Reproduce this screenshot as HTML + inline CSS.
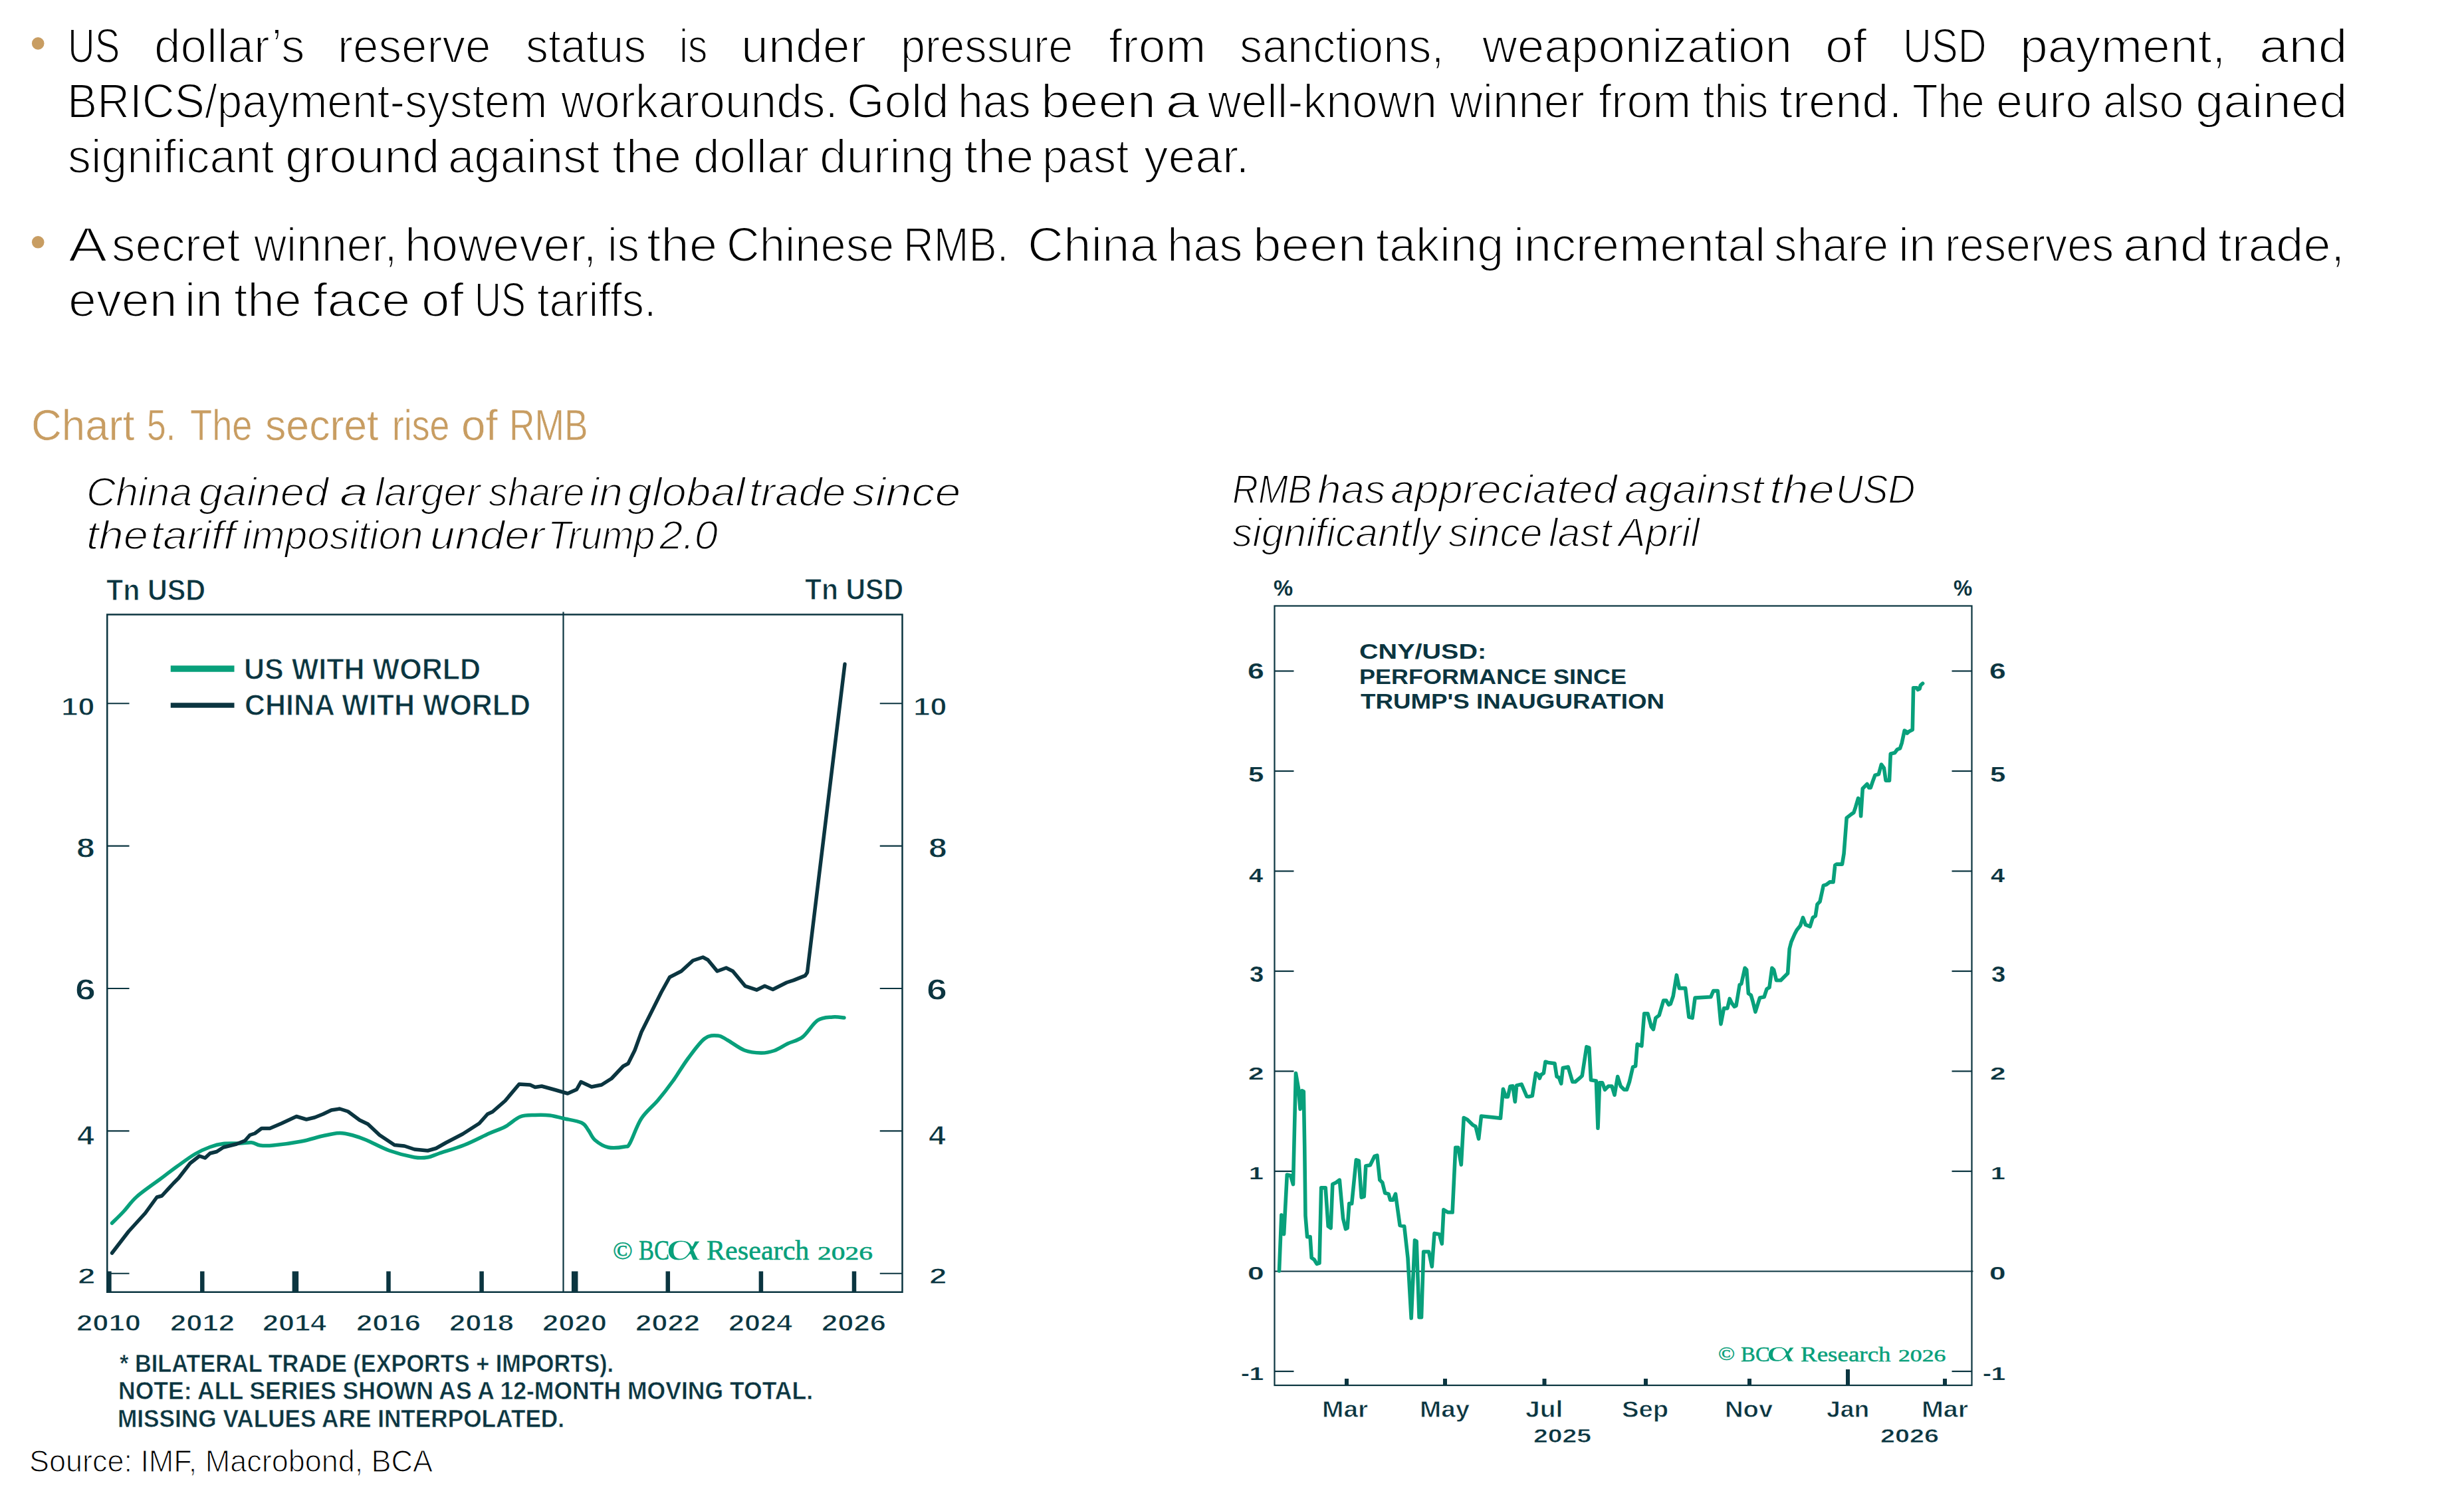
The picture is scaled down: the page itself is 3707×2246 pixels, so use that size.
<!DOCTYPE html>
<html><head><meta charset="utf-8"><style>
html,body{margin:0;padding:0;background:#fff;}
body{width:3707px;height:2246px;position:relative;overflow:hidden;}
.t{position:absolute;transform-origin:0 0;}
svg{position:absolute;left:0;top:0;}
</style></head><body>
<svg width="3707" height="2246" viewBox="0 0 3707 2246">
<circle cx="57.2" cy="65.4" r="9.3" fill="#c89d62"/>
<circle cx="57.2" cy="364.3" r="9.3" fill="#c89d62"/>
<rect x="161.25" y="924.5" width="1196.25" height="1019.25" fill="none" stroke="#0b3540" stroke-width="2.5"/>
<line x1="847.50" y1="920.50" x2="847.50" y2="1943.75" stroke="#0b3540" stroke-width="2.20" stroke-linecap="butt"/>
<line x1="161.25" y1="1915.75" x2="194.50" y2="1915.75" stroke="#0b3540" stroke-width="2.20" stroke-linecap="butt"/>
<line x1="1323.75" y1="1915.75" x2="1357.50" y2="1915.75" stroke="#0b3540" stroke-width="2.20" stroke-linecap="butt"/>
<line x1="161.25" y1="1701.37" x2="194.50" y2="1701.37" stroke="#0b3540" stroke-width="2.20" stroke-linecap="butt"/>
<line x1="1323.75" y1="1701.37" x2="1357.50" y2="1701.37" stroke="#0b3540" stroke-width="2.20" stroke-linecap="butt"/>
<line x1="161.25" y1="1486.99" x2="194.50" y2="1486.99" stroke="#0b3540" stroke-width="2.20" stroke-linecap="butt"/>
<line x1="1323.75" y1="1486.99" x2="1357.50" y2="1486.99" stroke="#0b3540" stroke-width="2.20" stroke-linecap="butt"/>
<line x1="161.25" y1="1272.61" x2="194.50" y2="1272.61" stroke="#0b3540" stroke-width="2.20" stroke-linecap="butt"/>
<line x1="1323.75" y1="1272.61" x2="1357.50" y2="1272.61" stroke="#0b3540" stroke-width="2.20" stroke-linecap="butt"/>
<line x1="161.25" y1="1058.23" x2="194.50" y2="1058.23" stroke="#0b3540" stroke-width="2.20" stroke-linecap="butt"/>
<line x1="1323.75" y1="1058.23" x2="1357.50" y2="1058.23" stroke="#0b3540" stroke-width="2.20" stroke-linecap="butt"/>
<rect x="161.15" y="1912.50" width="6.50" height="31.50" fill="#0b3540"/>
<rect x="301.05" y="1912.50" width="6.50" height="31.50" fill="#0b3540"/>
<rect x="439.65" y="1912.50" width="9.50" height="31.50" fill="#0b3540"/>
<rect x="581.25" y="1912.50" width="6.50" height="31.50" fill="#0b3540"/>
<rect x="721.35" y="1912.50" width="6.50" height="31.50" fill="#0b3540"/>
<rect x="859.95" y="1912.50" width="9.50" height="31.50" fill="#0b3540"/>
<rect x="1001.55" y="1912.50" width="6.50" height="31.50" fill="#0b3540"/>
<rect x="1141.65" y="1912.50" width="6.50" height="31.50" fill="#0b3540"/>
<rect x="1281.75" y="1912.50" width="6.50" height="31.50" fill="#0b3540"/>
<line x1="256.75" y1="1006.00" x2="352.50" y2="1006.00" stroke="#08a07b" stroke-width="9.50" stroke-linecap="butt"/>
<line x1="256.75" y1="1061.00" x2="352.50" y2="1061.00" stroke="#0b3540" stroke-width="7.50" stroke-linecap="butt"/>
<path d="M168.5,1840.0 C171.4,1837.1 179.8,1829.2 186.0,1822.5 C192.2,1815.8 196.8,1808.1 206.0,1800.0 C215.2,1791.9 231.0,1781.2 241.0,1773.8 C251.0,1766.2 257.2,1761.3 266.0,1755.0 C274.8,1748.7 285.2,1740.9 293.5,1736.0 C301.8,1731.1 308.9,1728.1 316.0,1725.5 C323.1,1722.9 328.5,1721.4 336.0,1720.5 C343.5,1719.6 353.9,1720.3 361.0,1720.0 C368.1,1719.7 373.5,1718.2 378.5,1718.8 C383.5,1719.2 385.6,1722.3 391.0,1723.0 C396.4,1723.7 400.6,1724.0 411.0,1723.0 C421.4,1722.0 441.0,1719.4 453.5,1717.0 C466.0,1714.6 476.4,1710.8 486.0,1708.8 C495.6,1706.7 503.5,1704.6 511.0,1704.5 C518.5,1704.4 524.3,1706.2 531.0,1708.0 C537.7,1709.8 541.8,1711.2 551.0,1715.0 C560.2,1718.8 573.9,1726.7 586.0,1731.0 C598.1,1735.3 613.9,1739.3 623.5,1741.0 C633.1,1742.7 637.2,1742.0 643.5,1741.0 C649.8,1740.0 651.8,1738.1 661.0,1735.0 C670.2,1731.9 686.0,1727.5 698.5,1722.5 C711.0,1717.5 725.8,1709.6 736.0,1705.0 C746.2,1700.4 752.2,1699.2 760.0,1695.0 C767.8,1690.8 775.0,1682.9 782.5,1680.0 C790.0,1677.1 797.5,1677.8 805.0,1677.5 C812.5,1677.2 820.4,1677.2 827.5,1678.0 C834.6,1678.8 839.6,1680.7 847.5,1682.5 C855.4,1684.3 868.8,1686.1 875.0,1689.0 C881.2,1691.9 881.7,1695.7 885.0,1700.0 C888.3,1704.3 890.0,1710.7 895.0,1715.0 C900.0,1719.3 907.5,1724.3 915.0,1726.0 C922.5,1727.7 934.6,1726.0 940.0,1725.0 C945.4,1724.0 943.3,1727.1 947.5,1720.0 C951.7,1712.9 957.9,1693.3 965.0,1682.5 C972.1,1671.7 982.1,1664.4 990.0,1655.0 C997.9,1645.6 1005.0,1636.4 1012.5,1626.0 C1020.0,1615.6 1027.1,1603.1 1035.0,1592.5 C1042.9,1581.9 1052.5,1568.2 1060.0,1562.5 C1067.5,1556.8 1074.2,1557.6 1080.0,1558.0 C1085.8,1558.4 1088.3,1561.3 1095.0,1565.0 C1101.7,1568.7 1111.7,1576.8 1120.0,1580.0 C1128.3,1583.2 1137.5,1583.9 1145.0,1584.0 C1152.5,1584.1 1158.3,1582.8 1165.0,1580.5 C1171.7,1578.2 1177.9,1573.4 1185.0,1570.0 C1192.1,1566.6 1200.0,1565.8 1207.5,1560.0 C1215.0,1554.2 1222.5,1540.0 1230.0,1535.0 C1237.5,1530.0 1245.8,1530.7 1252.5,1530.0 C1259.2,1529.3 1267.1,1530.8 1270.0,1531.0" fill="none" stroke="#08a07b" stroke-width="5.50" stroke-linejoin="round" stroke-linecap="round"/>
<polyline points="168.5,1885.0 193.5,1852.5 218.5,1825.0 236.0,1801.0 243.5,1799.0 261.0,1780.0 268.5,1772.5 286.0,1750.0 300.0,1739.0 308.5,1742.0 316.0,1735.0 326.0,1732.5 336.0,1726.0 356.0,1721.0 368.5,1716.0 376.0,1707.5 383.5,1705.0 393.5,1697.5 406.0,1697.5 423.5,1690.0 446.0,1679.5 461.0,1684.0 473.5,1681.0 486.0,1676.0 498.5,1670.0 511.0,1668.0 523.5,1672.0 541.0,1685.0 553.5,1691.0 571.0,1707.5 593.5,1722.5 608.5,1724.0 623.5,1729.0 643.5,1731.0 656.0,1727.5 671.0,1719.0 696.0,1706.0 721.0,1690.0 733.5,1676.0 741.0,1672.5 760.0,1656.0 781.0,1631.0 797.5,1632.0 805.0,1635.5 815.0,1634.0 835.0,1639.5 854.0,1645.0 867.5,1639.0 874.0,1627.5 890.0,1635.0 905.0,1632.0 920.0,1622.5 937.5,1604.0 945.0,1600.0 955.0,1580.0 965.0,1552.5 980.0,1522.5 995.0,1492.5 1007.5,1470.0 1025.0,1461.0 1042.5,1445.0 1057.5,1440.0 1065.0,1444.0 1079.0,1461.0 1092.5,1456.0 1102.5,1461.0 1121.0,1483.3 1138.3,1489.2 1150.5,1483.3 1162.7,1488.5 1183.6,1478.0 1194.0,1474.6 1211.5,1467.6 1214.5,1463.0 1271.0,999.0" fill="none" stroke="#0b3540" stroke-width="5.50" stroke-linejoin="round" stroke-linecap="round"/>
<rect x="1917.5" y="911.5" width="1049" height="1172.5" fill="none" stroke="#0b3540" stroke-width="2.2"/>
<line x1="1917.50" y1="1912.50" x2="2968.50" y2="1912.50" stroke="#0b3540" stroke-width="2.20" stroke-linecap="butt"/>
<line x1="1917.50" y1="1009.50" x2="1946.50" y2="1009.50" stroke="#0b3540" stroke-width="2.20" stroke-linecap="butt"/>
<line x1="2936.50" y1="1009.50" x2="2966.50" y2="1009.50" stroke="#0b3540" stroke-width="2.20" stroke-linecap="butt"/>
<line x1="1917.50" y1="1160.00" x2="1946.50" y2="1160.00" stroke="#0b3540" stroke-width="2.20" stroke-linecap="butt"/>
<line x1="2936.50" y1="1160.00" x2="2966.50" y2="1160.00" stroke="#0b3540" stroke-width="2.20" stroke-linecap="butt"/>
<line x1="1917.50" y1="1310.50" x2="1946.50" y2="1310.50" stroke="#0b3540" stroke-width="2.20" stroke-linecap="butt"/>
<line x1="2936.50" y1="1310.50" x2="2966.50" y2="1310.50" stroke="#0b3540" stroke-width="2.20" stroke-linecap="butt"/>
<line x1="1917.50" y1="1461.00" x2="1946.50" y2="1461.00" stroke="#0b3540" stroke-width="2.20" stroke-linecap="butt"/>
<line x1="2936.50" y1="1461.00" x2="2966.50" y2="1461.00" stroke="#0b3540" stroke-width="2.20" stroke-linecap="butt"/>
<line x1="1917.50" y1="1611.50" x2="1946.50" y2="1611.50" stroke="#0b3540" stroke-width="2.20" stroke-linecap="butt"/>
<line x1="2936.50" y1="1611.50" x2="2966.50" y2="1611.50" stroke="#0b3540" stroke-width="2.20" stroke-linecap="butt"/>
<line x1="1917.50" y1="1762.00" x2="1946.50" y2="1762.00" stroke="#0b3540" stroke-width="2.20" stroke-linecap="butt"/>
<line x1="2936.50" y1="1762.00" x2="2966.50" y2="1762.00" stroke="#0b3540" stroke-width="2.20" stroke-linecap="butt"/>
<line x1="1917.50" y1="2063.00" x2="1946.50" y2="2063.00" stroke="#0b3540" stroke-width="2.20" stroke-linecap="butt"/>
<line x1="2936.50" y1="2063.00" x2="2966.50" y2="2063.00" stroke="#0b3540" stroke-width="2.20" stroke-linecap="butt"/>
<rect x="2023.00" y="2074.00" width="6.00" height="10.00" fill="#0b3540"/>
<rect x="2171.00" y="2074.00" width="6.00" height="10.00" fill="#0b3540"/>
<rect x="2320.50" y="2074.00" width="6.00" height="10.00" fill="#0b3540"/>
<rect x="2473.00" y="2074.00" width="6.00" height="10.00" fill="#0b3540"/>
<rect x="2629.00" y="2074.00" width="6.00" height="10.00" fill="#0b3540"/>
<rect x="2923.00" y="2074.00" width="6.00" height="10.00" fill="#0b3540"/>
<rect x="2777.00" y="2060.00" width="6.00" height="24.00" fill="#0b3540"/>
<polyline points="1924.5,1912.0 1927.9,1827.7 1931.6,1856.7 1936.3,1767.2 1941.6,1768.5 1945.5,1781.6 1949.5,1614.5 1953.4,1636.9 1956.1,1668.4 1958.7,1640.8 1961.3,1642.1 1962.7,1723.7 1964.0,1829.0 1966.6,1860.6 1971.1,1860.6 1973.2,1892.2 1977.1,1894.8 1981.1,1901.4 1985.0,1900.1 1987.7,1786.9 1994.2,1786.9 1998.2,1844.8 2002.1,1847.5 2004.8,1781.6 2010.0,1779.0 2015.3,1775.1 2020.6,1833.0 2024.5,1848.8 2027.1,1847.5 2029.8,1810.6 2033.7,1810.6 2040.3,1744.8 2044.3,1746.1 2048.2,1801.4 2052.2,1800.1 2054.8,1754.0 2061.4,1752.7 2067.9,1739.5 2071.9,1738.2 2075.8,1775.1 2079.8,1779.0 2083.7,1794.8 2089.0,1796.1 2091.6,1805.3 2095.6,1805.3 2099.5,1796.1 2106.1,1843.5 2112.7,1844.8 2118.0,1892.2 2123.2,1983.0 2128.5,1865.9 2131.1,1867.2 2135.1,1981.7 2138.5,1981.7 2141.7,1883.0 2149.6,1883.0 2154.3,1905.4 2158.0,1855.4 2165.4,1856.7 2169.3,1871.1 2171.9,1819.8 2178.5,1823.8 2185.1,1823.8 2189.8,1726.4 2193.8,1726.4 2198.3,1752.2 2202.2,1681.6 2207.5,1684.2 2215.4,1692.1 2220.1,1694.8 2224.6,1713.2 2228.5,1679.0 2257.5,1682.1 2261.4,1638.2 2265.4,1650.0 2268.5,1650.0 2272.0,1634.2 2275.9,1633.7 2279.3,1657.4 2281.7,1632.9 2289.1,1631.1 2297.0,1649.5 2300.0,1649.8 2305.3,1648.5 2310.5,1614.3 2314.5,1616.9 2316.3,1622.2 2318.4,1616.9 2322.4,1614.3 2325.0,1597.2 2329.0,1598.5 2339.0,1599.8 2342.1,1619.6 2345.3,1620.9 2348.7,1630.1 2351.3,1606.4 2359.2,1605.1 2365.8,1627.5 2369.8,1627.5 2377.7,1620.9 2380.3,1618.2 2386.9,1574.8 2390.8,1576.1 2393.5,1624.8 2401.4,1626.1 2404.0,1697.2 2406.6,1628.8 2410.6,1628.8 2414.5,1639.3 2419.8,1634.0 2425.0,1634.0 2429.0,1647.2 2433.7,1619.6 2438.2,1634.0 2443.5,1639.3 2447.4,1639.3 2451.4,1627.5 2456.6,1605.1 2460.6,1603.8 2463.2,1570.9 2469.8,1573.5 2473.7,1524.8 2479.0,1524.8 2484.3,1544.5 2487.4,1548.5 2490.9,1531.4 2496.1,1527.4 2502.7,1505.0 2506.7,1505.0 2510.6,1511.6 2513.2,1510.3 2517.2,1498.5 2522.4,1466.9 2526.4,1486.6 2530.3,1486.6 2535.6,1486.6 2540.9,1530.1 2546.1,1531.4 2550.1,1501.1 2573.8,1499.8 2577.7,1490.6 2584.3,1490.6 2589.0,1540.6 2593.5,1516.9 2598.8,1516.9 2602.2,1502.4 2605.4,1509.0 2609.3,1514.3 2612.0,1512.9 2617.2,1481.4 2619.8,1480.0 2625.1,1456.3 2627.7,1459.0 2630.4,1494.5 2634.3,1497.1 2637.0,1506.4 2640.9,1522.2 2647.5,1501.1 2654.1,1499.8 2658.0,1487.9 2662.0,1485.3 2665.9,1456.3 2668.6,1459.0 2672.5,1474.8 2679.1,1474.8 2684.3,1469.5 2689.6,1464.2 2692.2,1427.4 2694.9,1416.9 2700.1,1405.0 2703.1,1399.2 2708.5,1392.5 2712.5,1380.4 2716.5,1391.2 2723.2,1393.8 2727.3,1380.4 2731.3,1377.8 2734.0,1360.4 2738.0,1356.3 2743.3,1332.2 2747.4,1330.9 2752.7,1326.9 2758.1,1326.9 2760.8,1301.4 2763.4,1300.1 2771.5,1300.1 2774.1,1284.0 2778.2,1230.4 2784.9,1225.1 2788.9,1222.4 2791.6,1214.3 2795.6,1200.9 2798.3,1203.6 2799.6,1227.7 2802.3,1186.2 2809.0,1179.5 2811.7,1184.9 2814.3,1184.9 2817.0,1176.8 2821.0,1166.1 2826.4,1164.8 2830.4,1150.0 2834.4,1155.4 2837.1,1174.1 2842.5,1174.1 2844.3,1134.0 2850.5,1132.6 2854.5,1127.3 2858.5,1125.9 2861.2,1117.9 2865.2,1099.1 2867.9,1100.5 2869.3,1103.1 2871.9,1100.5 2877.3,1097.8 2878.6,1034.8 2884.0,1034.8 2885.3,1037.5 2888.0,1036.2 2889.4,1030.8 2892.6,1028.1" fill="none" stroke="#08a07b" stroke-width="5.60" stroke-linejoin="round" stroke-linecap="round"/>
</svg>
<div class="t" style="left:102.40px;top:33.45px;font-family:'Liberation Sans';font-size:72px;line-height:72px;color:#000;-webkit-text-stroke:2.00px #fff;white-space:pre;transform:scaleX(0.7845);">US</div>
<div class="t" style="left:232.00px;top:33.45px;font-family:'Liberation Sans';font-size:72px;line-height:72px;color:#000;-webkit-text-stroke:2.00px #fff;white-space:pre;transform:scaleX(0.9868);">dollar’s</div>
<div class="t" style="left:508.00px;top:33.45px;font-family:'Liberation Sans';font-size:72px;line-height:72px;color:#000;-webkit-text-stroke:2.00px #fff;white-space:pre;transform:scaleX(0.9598);">reserve</div>
<div class="t" style="left:791.00px;top:33.45px;font-family:'Liberation Sans';font-size:72px;line-height:72px;color:#000;-webkit-text-stroke:2.00px #fff;white-space:pre;transform:scaleX(0.9436);">status</div>
<div class="t" style="left:1022.00px;top:33.45px;font-family:'Liberation Sans';font-size:72px;line-height:72px;color:#000;-webkit-text-stroke:2.00px #fff;white-space:pre;transform:scaleX(0.8143);">is</div>
<div class="t" style="left:1115.00px;top:33.45px;font-family:'Liberation Sans';font-size:72px;line-height:72px;color:#000;-webkit-text-stroke:2.00px #fff;white-space:pre;transform:scaleX(1.0227);">under</div>
<div class="t" style="left:1355.00px;top:33.45px;font-family:'Liberation Sans';font-size:72px;line-height:72px;color:#000;-webkit-text-stroke:2.00px #fff;white-space:pre;transform:scaleX(0.9258);">pressure</div>
<div class="t" style="left:1668.00px;top:33.45px;font-family:'Liberation Sans';font-size:72px;line-height:72px;color:#000;-webkit-text-stroke:2.00px #fff;white-space:pre;transform:scaleX(1.0169);">from</div>
<div class="t" style="left:1865.00px;top:33.45px;font-family:'Liberation Sans';font-size:72px;line-height:72px;color:#000;-webkit-text-stroke:2.00px #fff;white-space:pre;transform:scaleX(0.9481);">sanctions,</div>
<div class="t" style="left:2230.00px;top:33.45px;font-family:'Liberation Sans';font-size:72px;line-height:72px;color:#000;-webkit-text-stroke:2.00px #fff;white-space:pre;transform:scaleX(1.0125);">weaponization</div>
<div class="t" style="left:2746.00px;top:33.45px;font-family:'Liberation Sans';font-size:72px;line-height:72px;color:#000;-webkit-text-stroke:2.00px #fff;white-space:pre;transform:scaleX(1.0397);">of</div>
<div class="t" style="left:2863.00px;top:33.45px;font-family:'Liberation Sans';font-size:72px;line-height:72px;color:#000;-webkit-text-stroke:2.00px #fff;white-space:pre;transform:scaleX(0.8261);">USD</div>
<div class="t" style="left:3039.00px;top:33.45px;font-family:'Liberation Sans';font-size:72px;line-height:72px;color:#000;-webkit-text-stroke:2.00px #fff;white-space:pre;transform:scaleX(1.0456);">payment,</div>
<div class="t" style="left:3399.00px;top:33.45px;font-family:'Liberation Sans';font-size:72px;line-height:72px;color:#000;-webkit-text-stroke:2.00px #fff;white-space:pre;transform:scaleX(1.1055);">and</div>
<div class="t" style="left:101.40px;top:115.55px;font-family:'Liberation Sans';font-size:72px;line-height:72px;color:#000;-webkit-text-stroke:2.00px #fff;white-space:pre;transform:scaleX(0.9404);">BRICS/payment-system</div>
<div class="t" style="left:844.20px;top:115.55px;font-family:'Liberation Sans';font-size:72px;line-height:72px;color:#000;-webkit-text-stroke:2.00px #fff;white-space:pre;transform:scaleX(0.9642);">workarounds.</div>
<div class="t" style="left:1274.00px;top:115.55px;font-family:'Liberation Sans';font-size:72px;line-height:72px;color:#000;-webkit-text-stroke:2.00px #fff;white-space:pre;transform:scaleX(1.0104);">Gold</div>
<div class="t" style="left:1441.00px;top:115.55px;font-family:'Liberation Sans';font-size:72px;line-height:72px;color:#000;-webkit-text-stroke:2.00px #fff;white-space:pre;transform:scaleX(0.9457);">has</div>
<div class="t" style="left:1566.00px;top:115.55px;font-family:'Liberation Sans';font-size:72px;line-height:72px;color:#000;-webkit-text-stroke:2.00px #fff;white-space:pre;transform:scaleX(1.0794);">been</div>
<div class="t" style="left:1753.00px;top:115.55px;font-family:'Liberation Sans';font-size:72px;line-height:72px;color:#000;-webkit-text-stroke:2.00px #fff;white-space:pre;transform:scaleX(1.2928);">a</div>
<div class="t" style="left:1817.00px;top:115.55px;font-family:'Liberation Sans';font-size:72px;line-height:72px;color:#000;-webkit-text-stroke:2.00px #fff;white-space:pre;transform:scaleX(0.9690);">well-known</div>
<div class="t" style="left:2181.00px;top:115.55px;font-family:'Liberation Sans';font-size:72px;line-height:72px;color:#000;-webkit-text-stroke:2.00px #fff;white-space:pre;transform:scaleX(0.9573);">winner</div>
<div class="t" style="left:2405.00px;top:115.55px;font-family:'Liberation Sans';font-size:72px;line-height:72px;color:#000;-webkit-text-stroke:2.00px #fff;white-space:pre;transform:scaleX(0.9680);">from</div>
<div class="t" style="left:2562.00px;top:115.55px;font-family:'Liberation Sans';font-size:72px;line-height:72px;color:#000;-webkit-text-stroke:2.00px #fff;white-space:pre;transform:scaleX(0.8772);">this</div>
<div class="t" style="left:2676.60px;top:115.55px;font-family:'Liberation Sans';font-size:72px;line-height:72px;color:#000;-webkit-text-stroke:2.00px #fff;white-space:pre;transform:scaleX(1.0020);">trend.</div>
<div class="t" style="left:2876.60px;top:115.55px;font-family:'Liberation Sans';font-size:72px;line-height:72px;color:#000;-webkit-text-stroke:2.00px #fff;white-space:pre;transform:scaleX(0.8760);">The</div>
<div class="t" style="left:3003.00px;top:115.55px;font-family:'Liberation Sans';font-size:72px;line-height:72px;color:#000;-webkit-text-stroke:2.00px #fff;white-space:pre;transform:scaleX(1.0027);">euro</div>
<div class="t" style="left:3164.00px;top:115.55px;font-family:'Liberation Sans';font-size:72px;line-height:72px;color:#000;-webkit-text-stroke:2.00px #fff;white-space:pre;transform:scaleX(0.9190);">also</div>
<div class="t" style="left:3303.00px;top:115.55px;font-family:'Liberation Sans';font-size:72px;line-height:72px;color:#000;-webkit-text-stroke:2.00px #fff;white-space:pre;transform:scaleX(1.0569);">gained</div>
<div class="t" style="left:102.00px;top:198.55px;font-family:'Liberation Sans';font-size:72px;line-height:72px;color:#000;-webkit-text-stroke:2.00px #fff;white-space:pre;transform:scaleX(0.9697);">significant</div>
<div class="t" style="left:429.00px;top:198.55px;font-family:'Liberation Sans';font-size:72px;line-height:72px;color:#000;-webkit-text-stroke:2.00px #fff;white-space:pre;transform:scaleX(1.0367);">ground</div>
<div class="t" style="left:674.00px;top:198.55px;font-family:'Liberation Sans';font-size:72px;line-height:72px;color:#000;-webkit-text-stroke:2.00px #fff;white-space:pre;transform:scaleX(0.9825);">against</div>
<div class="t" style="left:921.00px;top:198.55px;font-family:'Liberation Sans';font-size:72px;line-height:72px;color:#000;-webkit-text-stroke:2.00px #fff;white-space:pre;transform:scaleX(1.0429);">the</div>
<div class="t" style="left:1043.00px;top:198.55px;font-family:'Liberation Sans';font-size:72px;line-height:72px;color:#000;-webkit-text-stroke:2.00px #fff;white-space:pre;transform:scaleX(0.9893);">dollar</div>
<div class="t" style="left:1233.00px;top:198.55px;font-family:'Liberation Sans';font-size:72px;line-height:72px;color:#000;-webkit-text-stroke:2.00px #fff;white-space:pre;transform:scaleX(1.0114);">during</div>
<div class="t" style="left:1450.00px;top:198.55px;font-family:'Liberation Sans';font-size:72px;line-height:72px;color:#000;-webkit-text-stroke:2.00px #fff;white-space:pre;transform:scaleX(1.0529);">the</div>
<div class="t" style="left:1568.00px;top:198.55px;font-family:'Liberation Sans';font-size:72px;line-height:72px;color:#000;-webkit-text-stroke:2.00px #fff;white-space:pre;transform:scaleX(0.9575);">past</div>
<div class="t" style="left:1721.00px;top:198.55px;font-family:'Liberation Sans';font-size:72px;line-height:72px;color:#000;-webkit-text-stroke:2.00px #fff;white-space:pre;transform:scaleX(1.0159);">year.</div>
<div class="t" style="left:103.20px;top:332.05px;font-family:'Liberation Sans';font-size:72px;line-height:72px;color:#000;-webkit-text-stroke:2.00px #fff;white-space:pre;transform:scaleX(1.2104);">A</div>
<div class="t" style="left:168.00px;top:332.05px;font-family:'Liberation Sans';font-size:72px;line-height:72px;color:#000;-webkit-text-stroke:2.00px #fff;white-space:pre;transform:scaleX(0.9849);">secret</div>
<div class="t" style="left:382.00px;top:332.05px;font-family:'Liberation Sans';font-size:72px;line-height:72px;color:#000;-webkit-text-stroke:2.00px #fff;white-space:pre;transform:scaleX(0.9438);">winner,</div>
<div class="t" style="left:609.00px;top:332.05px;font-family:'Liberation Sans';font-size:72px;line-height:72px;color:#000;-webkit-text-stroke:2.00px #fff;white-space:pre;transform:scaleX(1.0016);">however,</div>
<div class="t" style="left:913.60px;top:332.05px;font-family:'Liberation Sans';font-size:72px;line-height:72px;color:#000;-webkit-text-stroke:2.00px #fff;white-space:pre;transform:scaleX(0.9195);">is</div>
<div class="t" style="left:973.20px;top:332.05px;font-family:'Liberation Sans';font-size:72px;line-height:72px;color:#000;-webkit-text-stroke:2.00px #fff;white-space:pre;transform:scaleX(1.0628);">the</div>
<div class="t" style="left:1093.00px;top:332.05px;font-family:'Liberation Sans';font-size:72px;line-height:72px;color:#000;-webkit-text-stroke:2.00px #fff;white-space:pre;transform:scaleX(0.9549);">Chinese</div>
<div class="t" style="left:1359.00px;top:332.05px;font-family:'Liberation Sans';font-size:72px;line-height:72px;color:#000;-webkit-text-stroke:2.00px #fff;white-space:pre;transform:scaleX(0.8802);">RMB.</div>
<div class="t" style="left:1546.00px;top:332.05px;font-family:'Liberation Sans';font-size:72px;line-height:72px;color:#000;-webkit-text-stroke:2.00px #fff;white-space:pre;transform:scaleX(1.0376);">China</div>
<div class="t" style="left:1756.00px;top:332.05px;font-family:'Liberation Sans';font-size:72px;line-height:72px;color:#000;-webkit-text-stroke:2.00px #fff;white-space:pre;transform:scaleX(0.9771);">has</div>
<div class="t" style="left:1885.40px;top:332.05px;font-family:'Liberation Sans';font-size:72px;line-height:72px;color:#000;-webkit-text-stroke:2.00px #fff;white-space:pre;transform:scaleX(1.0644);">been</div>
<div class="t" style="left:2070.00px;top:332.05px;font-family:'Liberation Sans';font-size:72px;line-height:72px;color:#000;-webkit-text-stroke:2.00px #fff;white-space:pre;transform:scaleX(1.0007);">taking</div>
<div class="t" style="left:2277.00px;top:332.05px;font-family:'Liberation Sans';font-size:72px;line-height:72px;color:#000;-webkit-text-stroke:2.00px #fff;white-space:pre;transform:scaleX(1.0194);">incremental</div>
<div class="t" style="left:2669.00px;top:332.05px;font-family:'Liberation Sans';font-size:72px;line-height:72px;color:#000;-webkit-text-stroke:2.00px #fff;white-space:pre;transform:scaleX(0.9567);">share</div>
<div class="t" style="left:2856.20px;top:332.05px;font-family:'Liberation Sans';font-size:72px;line-height:72px;color:#000;-webkit-text-stroke:2.00px #fff;white-space:pre;transform:scaleX(1.0057);">in</div>
<div class="t" style="left:2925.60px;top:332.05px;font-family:'Liberation Sans';font-size:72px;line-height:72px;color:#000;-webkit-text-stroke:2.00px #fff;white-space:pre;transform:scaleX(0.9210);">reserves</div>
<div class="t" style="left:3194.20px;top:332.05px;font-family:'Liberation Sans';font-size:72px;line-height:72px;color:#000;-webkit-text-stroke:2.00px #fff;white-space:pre;transform:scaleX(1.0706);">and</div>
<div class="t" style="left:3337.00px;top:332.05px;font-family:'Liberation Sans';font-size:72px;line-height:72px;color:#000;-webkit-text-stroke:2.00px #fff;white-space:pre;transform:scaleX(1.0345);">trade,</div>
<div class="t" style="left:103.00px;top:414.55px;font-family:'Liberation Sans';font-size:72px;line-height:72px;color:#000;-webkit-text-stroke:2.00px #fff;white-space:pre;transform:scaleX(1.0480);">even</div>
<div class="t" style="left:278.00px;top:414.55px;font-family:'Liberation Sans';font-size:72px;line-height:72px;color:#000;-webkit-text-stroke:2.00px #fff;white-space:pre;transform:scaleX(1.0134);">in</div>
<div class="t" style="left:351.80px;top:414.55px;font-family:'Liberation Sans';font-size:72px;line-height:72px;color:#000;-webkit-text-stroke:2.00px #fff;white-space:pre;transform:scaleX(1.0154);">the</div>
<div class="t" style="left:471.00px;top:414.55px;font-family:'Liberation Sans';font-size:72px;line-height:72px;color:#000;-webkit-text-stroke:2.00px #fff;white-space:pre;transform:scaleX(1.0748);">face</div>
<div class="t" style="left:634.00px;top:414.55px;font-family:'Liberation Sans';font-size:72px;line-height:72px;color:#000;-webkit-text-stroke:2.00px #fff;white-space:pre;transform:scaleX(1.0595);">of</div>
<div class="t" style="left:714.00px;top:414.55px;font-family:'Liberation Sans';font-size:72px;line-height:72px;color:#000;-webkit-text-stroke:2.00px #fff;white-space:pre;transform:scaleX(0.7677);">US</div>
<div class="t" style="left:808.00px;top:414.55px;font-family:'Liberation Sans';font-size:72px;line-height:72px;color:#000;-webkit-text-stroke:2.00px #fff;white-space:pre;transform:scaleX(0.9215);">tariffs.</div>
<div class="t" style="left:47.00px;top:608.32px;font-family:'Liberation Sans';font-size:64px;line-height:64px;color:#c89d62;-webkit-text-stroke:0.60px #fff;white-space:pre;transform:scaleX(0.9923);">Chart</div>
<div class="t" style="left:220.70px;top:608.32px;font-family:'Liberation Sans';font-size:64px;line-height:64px;color:#c89d62;-webkit-text-stroke:0.60px #fff;white-space:pre;transform:scaleX(0.8056);">5.</div>
<div class="t" style="left:286.00px;top:608.32px;font-family:'Liberation Sans';font-size:64px;line-height:64px;color:#c89d62;-webkit-text-stroke:0.60px #fff;white-space:pre;transform:scaleX(0.8478);">The</div>
<div class="t" style="left:399.00px;top:608.32px;font-family:'Liberation Sans';font-size:64px;line-height:64px;color:#c89d62;-webkit-text-stroke:0.60px #fff;white-space:pre;transform:scaleX(0.9783);">secret</div>
<div class="t" style="left:589.60px;top:608.32px;font-family:'Liberation Sans';font-size:64px;line-height:64px;color:#c89d62;-webkit-text-stroke:0.60px #fff;white-space:pre;transform:scaleX(0.8378);">rise</div>
<div class="t" style="left:693.80px;top:608.32px;font-family:'Liberation Sans';font-size:64px;line-height:64px;color:#c89d62;-webkit-text-stroke:0.60px #fff;white-space:pre;transform:scaleX(1.0248);">of</div>
<div class="t" style="left:766.00px;top:608.32px;font-family:'Liberation Sans';font-size:64px;line-height:64px;color:#c89d62;-webkit-text-stroke:0.60px #fff;white-space:pre;transform:scaleX(0.8332);">RMB</div>
<div class="t" style="left:129.60px;top:709.86px;font-family:'Liberation Sans';font-size:61px;line-height:61px;color:#000;font-style:italic;-webkit-text-stroke:1.80px #fff;white-space:pre;transform:scaleX(0.9984);">China</div>
<div class="t" style="left:299.00px;top:709.86px;font-family:'Liberation Sans';font-size:61px;line-height:61px;color:#000;font-style:italic;-webkit-text-stroke:1.80px #fff;white-space:pre;transform:scaleX(1.0647);">gained</div>
<div class="t" style="left:511.00px;top:709.86px;font-family:'Liberation Sans';font-size:61px;line-height:61px;color:#000;font-style:italic;-webkit-text-stroke:1.80px #fff;white-space:pre;transform:scaleX(1.2606);">a</div>
<div class="t" style="left:564.00px;top:709.86px;font-family:'Liberation Sans';font-size:61px;line-height:61px;color:#000;font-style:italic;-webkit-text-stroke:1.80px #fff;white-space:pre;transform:scaleX(1.0170);">larger</div>
<div class="t" style="left:735.00px;top:709.86px;font-family:'Liberation Sans';font-size:61px;line-height:61px;color:#000;font-style:italic;-webkit-text-stroke:1.80px #fff;white-space:pre;transform:scaleX(0.9449);">share</div>
<div class="t" style="left:887.00px;top:709.86px;font-family:'Liberation Sans';font-size:61px;line-height:61px;color:#000;font-style:italic;-webkit-text-stroke:1.80px #fff;white-space:pre;transform:scaleX(1.0497);">in</div>
<div class="t" style="left:943.60px;top:709.86px;font-family:'Liberation Sans';font-size:61px;line-height:61px;color:#000;font-style:italic;-webkit-text-stroke:1.80px #fff;white-space:pre;transform:scaleX(1.0875);">global</div>
<div class="t" style="left:1127.00px;top:709.86px;font-family:'Liberation Sans';font-size:61px;line-height:61px;color:#000;font-style:italic;-webkit-text-stroke:1.80px #fff;white-space:pre;transform:scaleX(1.0456);">trade</div>
<div class="t" style="left:1281.80px;top:709.86px;font-family:'Liberation Sans';font-size:61px;line-height:61px;color:#000;font-style:italic;-webkit-text-stroke:1.80px #fff;white-space:pre;transform:scaleX(1.1475);">since</div>
<div class="t" style="left:130.00px;top:775.36px;font-family:'Liberation Sans';font-size:61px;line-height:61px;color:#000;font-style:italic;-webkit-text-stroke:1.80px #fff;white-space:pre;transform:scaleX(1.0976);">the</div>
<div class="t" style="left:227.40px;top:775.36px;font-family:'Liberation Sans';font-size:61px;line-height:61px;color:#000;font-style:italic;-webkit-text-stroke:1.80px #fff;white-space:pre;transform:scaleX(1.0722);">tariff</div>
<div class="t" style="left:364.60px;top:775.36px;font-family:'Liberation Sans';font-size:61px;line-height:61px;color:#000;font-style:italic;-webkit-text-stroke:1.80px #fff;white-space:pre;transform:scaleX(0.9887);">imposition</div>
<div class="t" style="left:647.00px;top:775.36px;font-family:'Liberation Sans';font-size:61px;line-height:61px;color:#000;font-style:italic;-webkit-text-stroke:1.80px #fff;white-space:pre;transform:scaleX(1.1028);">under</div>
<div class="t" style="left:824.00px;top:775.36px;font-family:'Liberation Sans';font-size:61px;line-height:61px;color:#000;font-style:italic;-webkit-text-stroke:1.80px #fff;white-space:pre;transform:scaleX(0.9405);">Trump</div>
<div class="t" style="left:992.00px;top:775.36px;font-family:'Liberation Sans';font-size:61px;line-height:61px;color:#000;font-style:italic;-webkit-text-stroke:1.80px #fff;white-space:pre;transform:scaleX(1.0387);">2.0</div>
<div class="t" style="left:1854.20px;top:705.86px;font-family:'Liberation Sans';font-size:61px;line-height:61px;color:#000;font-style:italic;-webkit-text-stroke:1.80px #fff;white-space:pre;transform:scaleX(0.8830);">RMB</div>
<div class="t" style="left:1982.00px;top:705.86px;font-family:'Liberation Sans';font-size:61px;line-height:61px;color:#000;font-style:italic;-webkit-text-stroke:1.80px #fff;white-space:pre;transform:scaleX(1.0437);">has</div>
<div class="t" style="left:2092.00px;top:705.86px;font-family:'Liberation Sans';font-size:61px;line-height:61px;color:#000;font-style:italic;-webkit-text-stroke:1.80px #fff;white-space:pre;transform:scaleX(1.0690);">appreciated</div>
<div class="t" style="left:2444.00px;top:705.86px;font-family:'Liberation Sans';font-size:61px;line-height:61px;color:#000;font-style:italic;-webkit-text-stroke:1.80px #fff;white-space:pre;transform:scaleX(1.0646);">against</div>
<div class="t" style="left:2662.00px;top:705.86px;font-family:'Liberation Sans';font-size:61px;line-height:61px;color:#000;font-style:italic;-webkit-text-stroke:1.80px #fff;white-space:pre;transform:scaleX(1.1534);">the</div>
<div class="t" style="left:2762.00px;top:705.86px;font-family:'Liberation Sans';font-size:61px;line-height:61px;color:#000;font-style:italic;-webkit-text-stroke:1.80px #fff;white-space:pre;transform:scaleX(0.9276);">USD</div>
<div class="t" style="left:1854.20px;top:770.86px;font-family:'Liberation Sans';font-size:61px;line-height:61px;color:#000;font-style:italic;-webkit-text-stroke:1.80px #fff;white-space:pre;transform:scaleX(0.9933);">significantly</div>
<div class="t" style="left:2178.60px;top:770.86px;font-family:'Liberation Sans';font-size:61px;line-height:61px;color:#000;font-style:italic;-webkit-text-stroke:1.80px #fff;white-space:pre;transform:scaleX(0.9942);">since</div>
<div class="t" style="left:2329.80px;top:770.86px;font-family:'Liberation Sans';font-size:61px;line-height:61px;color:#000;font-style:italic;-webkit-text-stroke:1.80px #fff;white-space:pre;transform:scaleX(0.9966);">last</div>
<div class="t" style="left:2435.00px;top:770.86px;font-family:'Liberation Sans';font-size:61px;line-height:61px;color:#000;font-style:italic;-webkit-text-stroke:1.80px #fff;white-space:pre;transform:scaleX(1.0000);">April</div>
<div class="t" style="left:160.00px;top:865.83px;font-family:'Liberation Sans';font-size:44.5px;line-height:44.5px;color:#0b3540;font-weight:bold;-webkit-text-stroke:1.04px #fff;white-space:pre;transform:scaleX(0.9277);">Tn USD</div>
<div class="t" style="left:1211.00px;top:864.83px;font-family:'Liberation Sans';font-size:44.5px;line-height:44.5px;color:#0b3540;font-weight:bold;-webkit-text-stroke:1.04px #fff;white-space:pre;transform:scaleX(0.9214);">Tn USD</div>
<div class="t" style="left:367.00px;top:984.83px;font-family:'Liberation Sans';font-size:44.5px;line-height:44.5px;color:#0b3540;font-weight:bold;-webkit-text-stroke:1.04px #fff;white-space:pre;transform:scaleX(0.9668);">US WITH WORLD</div>
<div class="t" style="left:368.00px;top:1038.83px;font-family:'Liberation Sans';font-size:44.5px;line-height:44.5px;color:#0b3540;font-weight:bold;-webkit-text-stroke:1.04px #fff;white-space:pre;transform:scaleX(0.9648);">CHINA WITH WORLD</div>
<div class="t" style="left:117.00px;top:1903.90px;font-family:'Liberation Sans';font-size:32.6px;line-height:32.6px;color:#0b3540;font-weight:bold;-webkit-text-stroke:1.00px #fff;white-space:pre;transform:scaleX(1.4687);">2</div>
<div class="t" style="left:1398.00px;top:1903.90px;font-family:'Liberation Sans';font-size:32.6px;line-height:32.6px;color:#0b3540;font-weight:bold;-webkit-text-stroke:1.00px #fff;white-space:pre;transform:scaleX(1.4687);">2</div>
<div class="t" style="left:115.80px;top:1687.60px;font-family:'Liberation Sans';font-size:40.4px;line-height:40.4px;color:#0b3540;font-weight:bold;-webkit-text-stroke:1.00px #fff;white-space:pre;transform:scaleX(1.1496);">4</div>
<div class="t" style="left:1397.40px;top:1687.60px;font-family:'Liberation Sans';font-size:40.4px;line-height:40.4px;color:#0b3540;font-weight:bold;-webkit-text-stroke:1.00px #fff;white-space:pre;transform:scaleX(1.1496);">4</div>
<div class="t" style="left:113.00px;top:1466.32px;font-family:'Liberation Sans';font-size:45.1px;line-height:45.1px;color:#0b3540;font-weight:bold;-webkit-text-stroke:1.00px #fff;white-space:pre;transform:scaleX(1.2354);">6</div>
<div class="t" style="left:1394.00px;top:1466.32px;font-family:'Liberation Sans';font-size:45.1px;line-height:45.1px;color:#0b3540;font-weight:bold;-webkit-text-stroke:1.00px #fff;white-space:pre;transform:scaleX(1.2354);">6</div>
<div class="t" style="left:115.00px;top:1253.94px;font-family:'Liberation Sans';font-size:42.6px;line-height:42.6px;color:#0b3540;font-weight:bold;-webkit-text-stroke:1.00px #fff;white-space:pre;transform:scaleX(1.1686);">8</div>
<div class="t" style="left:1397.00px;top:1253.94px;font-family:'Liberation Sans';font-size:42.6px;line-height:42.6px;color:#0b3540;font-weight:bold;-webkit-text-stroke:1.00px #fff;white-space:pre;transform:scaleX(1.1686);">8</div>
<div class="t" style="left:92.00px;top:1045.86px;font-family:'Liberation Sans';font-size:36.2px;line-height:36.2px;color:#0b3540;font-weight:bold;-webkit-text-stroke:1.00px #fff;white-space:pre;transform:scaleX(1.2592);">10</div>
<div class="t" style="left:1374.00px;top:1045.86px;font-family:'Liberation Sans';font-size:36.2px;line-height:36.2px;color:#0b3540;font-weight:bold;-webkit-text-stroke:1.00px #fff;white-space:pre;transform:scaleX(1.2592);">10</div>
<div class="t" style="left:115.20px;top:1973.45px;font-family:'Liberation Sans';font-size:35.5px;line-height:35.5px;color:#0b3540;font-weight:bold;-webkit-text-stroke:1.00px #fff;white-space:pre;transform:scaleX(1.2299);">2010</div>
<div class="t" style="left:255.80px;top:1973.45px;font-family:'Liberation Sans';font-size:35.5px;line-height:35.5px;color:#0b3540;font-weight:bold;-webkit-text-stroke:1.00px #fff;white-space:pre;transform:scaleX(1.2296);">2012</div>
<div class="t" style="left:395.40px;top:1973.45px;font-family:'Liberation Sans';font-size:35.5px;line-height:35.5px;color:#0b3540;font-weight:bold;-webkit-text-stroke:1.00px #fff;white-space:pre;transform:scaleX(1.2164);">2014</div>
<div class="t" style="left:536.00px;top:1973.45px;font-family:'Liberation Sans';font-size:35.5px;line-height:35.5px;color:#0b3540;font-weight:bold;-webkit-text-stroke:1.00px #fff;white-space:pre;transform:scaleX(1.2298);">2016</div>
<div class="t" style="left:675.60px;top:1973.45px;font-family:'Liberation Sans';font-size:35.5px;line-height:35.5px;color:#0b3540;font-weight:bold;-webkit-text-stroke:1.00px #fff;white-space:pre;transform:scaleX(1.2298);">2018</div>
<div class="t" style="left:816.20px;top:1973.45px;font-family:'Liberation Sans';font-size:35.5px;line-height:35.5px;color:#0b3540;font-weight:bold;-webkit-text-stroke:1.00px #fff;white-space:pre;transform:scaleX(1.2299);">2020</div>
<div class="t" style="left:955.80px;top:1973.45px;font-family:'Liberation Sans';font-size:35.5px;line-height:35.5px;color:#0b3540;font-weight:bold;-webkit-text-stroke:1.00px #fff;white-space:pre;transform:scaleX(1.2296);">2022</div>
<div class="t" style="left:1096.40px;top:1973.45px;font-family:'Liberation Sans';font-size:35.5px;line-height:35.5px;color:#0b3540;font-weight:bold;-webkit-text-stroke:1.00px #fff;white-space:pre;transform:scaleX(1.2164);">2024</div>
<div class="t" style="left:1236.00px;top:1973.45px;font-family:'Liberation Sans';font-size:35.5px;line-height:35.5px;color:#0b3540;font-weight:bold;-webkit-text-stroke:1.00px #fff;white-space:pre;transform:scaleX(1.2298);">2026</div>
<div class="t" style="left:180.00px;top:2032.68px;font-family:'Liberation Sans';font-size:37px;line-height:37px;color:#0b3540;font-weight:bold;-webkit-text-stroke:0.50px #fff;white-space:pre;transform:scaleX(0.9272);">* BILATERAL TRADE (EXPORTS + IMPORTS).</div>
<div class="t" style="left:178.00px;top:2073.93px;font-family:'Liberation Sans';font-size:37px;line-height:37px;color:#0b3540;font-weight:bold;-webkit-text-stroke:0.50px #fff;white-space:pre;transform:scaleX(0.9604);">NOTE: ALL SERIES SHOWN AS A 12-MONTH MOVING TOTAL.</div>
<div class="t" style="left:177.00px;top:2116.18px;font-family:'Liberation Sans';font-size:37px;line-height:37px;color:#0b3540;font-weight:bold;-webkit-text-stroke:0.50px #fff;white-space:pre;transform:scaleX(0.9513);">MISSING VALUES ARE INTERPOLATED.</div>
<div class="t" style="left:922.00px;top:1862.17px;font-family:'Liberation Serif';font-size:38px;line-height:38px;color:#08a07b;-webkit-text-stroke:0.60px #08a07b;white-space:pre;transform:scaleX(1.0312);">©</div>
<div class="t" style="left:961.00px;top:1860.02px;font-family:'Liberation Serif';font-size:42.6px;line-height:42.6px;color:#08a07b;-webkit-text-stroke:0.60px #08a07b;white-space:pre;transform:scaleX(0.8129);">BC</div>
<div class="t" style="left:1000.80px;top:1844.95px;font-family:'Liberation Serif';font-size:60.6px;line-height:60.6px;color:#08a07b;-webkit-text-stroke:0.90px #fff;white-space:pre;transform:scaleX(1.7106);">α</div>
<div class="t" style="left:1062.80px;top:1860.02px;font-family:'Liberation Serif';font-size:42.6px;line-height:42.6px;color:#08a07b;-webkit-text-stroke:0.60px #08a07b;white-space:pre;transform:scaleX(0.9893);">Research</div>
<div class="t" style="left:1230.00px;top:1870.99px;font-family:'Liberation Serif';font-size:29.5px;line-height:29.5px;color:#08a07b;-webkit-text-stroke:0.60px #08a07b;white-space:pre;transform:scaleX(1.4050);">2026</div>
<div class="t" style="left:44.00px;top:2175.06px;font-family:'Liberation Sans';font-size:46px;line-height:46px;color:#000;-webkit-text-stroke:1.20px #fff;white-space:pre;transform:scaleX(0.9771);">Source: IMF, Macrobond, BCA</div>
<div class="t" style="left:1916.00px;top:868.99px;font-family:'Liberation Sans';font-size:32.5px;line-height:32.5px;color:#0b3540;font-weight:bold;white-space:pre;transform:scaleX(1.0086);">%</div>
<div class="t" style="left:2939.00px;top:868.99px;font-family:'Liberation Sans';font-size:32.5px;line-height:32.5px;color:#0b3540;font-weight:bold;white-space:pre;transform:scaleX(0.9742);">%</div>
<div class="t" style="left:1877.00px;top:993.04px;font-family:'Liberation Sans';font-size:33.5px;line-height:33.5px;color:#0b3540;font-weight:bold;-webkit-text-stroke:0.20px #fff;white-space:pre;transform:scaleX(1.3279);">6</div>
<div class="t" style="left:2993.00px;top:993.04px;font-family:'Liberation Sans';font-size:33.5px;line-height:33.5px;color:#0b3540;font-weight:bold;-webkit-text-stroke:0.20px #fff;white-space:pre;transform:scaleX(1.3279);">6</div>
<div class="t" style="left:1878.00px;top:1149.50px;font-family:'Liberation Sans';font-size:31.9px;line-height:31.9px;color:#0b3540;font-weight:bold;-webkit-text-stroke:0.20px #fff;white-space:pre;transform:scaleX(1.3178);">5</div>
<div class="t" style="left:2994.00px;top:1149.50px;font-family:'Liberation Sans';font-size:31.9px;line-height:31.9px;color:#0b3540;font-weight:bold;-webkit-text-stroke:0.20px #fff;white-space:pre;transform:scaleX(1.3178);">5</div>
<div class="t" style="left:1879.00px;top:1302.87px;font-family:'Liberation Sans';font-size:29.1px;line-height:29.1px;color:#0b3540;font-weight:bold;-webkit-text-stroke:0.20px #fff;white-space:pre;transform:scaleX(1.3038);">4</div>
<div class="t" style="left:2995.00px;top:1302.87px;font-family:'Liberation Sans';font-size:29.1px;line-height:29.1px;color:#0b3540;font-weight:bold;-webkit-text-stroke:0.20px #fff;white-space:pre;transform:scaleX(1.3038);">4</div>
<div class="t" style="left:1880.00px;top:1449.23px;font-family:'Liberation Sans';font-size:33.4px;line-height:33.4px;color:#0b3540;font-weight:bold;-webkit-text-stroke:0.20px #fff;white-space:pre;transform:scaleX(1.1424);">3</div>
<div class="t" style="left:2996.00px;top:1449.23px;font-family:'Liberation Sans';font-size:33.4px;line-height:33.4px;color:#0b3540;font-weight:bold;-webkit-text-stroke:0.20px #fff;white-space:pre;transform:scaleX(1.1424);">3</div>
<div class="t" style="left:1878.00px;top:1602.15px;font-family:'Liberation Sans';font-size:26.4px;line-height:26.4px;color:#0b3540;font-weight:bold;-webkit-text-stroke:0.20px #fff;white-space:pre;transform:scaleX(1.6011);">2</div>
<div class="t" style="left:2994.00px;top:1602.15px;font-family:'Liberation Sans';font-size:26.4px;line-height:26.4px;color:#0b3540;font-weight:bold;-webkit-text-stroke:0.20px #fff;white-space:pre;transform:scaleX(1.6011);">2</div>
<div class="t" style="left:1879.00px;top:1752.63px;font-family:'Liberation Sans';font-size:25.6px;line-height:25.6px;color:#0b3540;font-weight:bold;-webkit-text-stroke:0.20px #fff;white-space:pre;transform:scaleX(1.5322);">1</div>
<div class="t" style="left:2995.00px;top:1752.63px;font-family:'Liberation Sans';font-size:25.6px;line-height:25.6px;color:#0b3540;font-weight:bold;-webkit-text-stroke:0.20px #fff;white-space:pre;transform:scaleX(1.5322);">1</div>
<div class="t" style="left:1877.00px;top:1902.48px;font-family:'Liberation Sans';font-size:27.2px;line-height:27.2px;color:#0b3540;font-weight:bold;-webkit-text-stroke:0.20px #fff;white-space:pre;transform:scaleX(1.6261);">0</div>
<div class="t" style="left:2993.00px;top:1902.48px;font-family:'Liberation Sans';font-size:27.2px;line-height:27.2px;color:#0b3540;font-weight:bold;-webkit-text-stroke:0.20px #fff;white-space:pre;transform:scaleX(1.6261);">0</div>
<div class="t" style="left:1867.00px;top:2052.72px;font-family:'Liberation Sans';font-size:27.5px;line-height:27.5px;color:#0b3540;font-weight:bold;-webkit-text-stroke:0.20px #fff;white-space:pre;transform:scaleX(1.3994);">-1</div>
<div class="t" style="left:2983.00px;top:2052.72px;font-family:'Liberation Sans';font-size:27.5px;line-height:27.5px;color:#0b3540;font-weight:bold;-webkit-text-stroke:0.20px #fff;white-space:pre;transform:scaleX(1.3994);">-1</div>
<div class="t" style="left:2045.00px;top:965.26px;font-family:'Liberation Sans';font-size:31px;line-height:31px;color:#0b3540;font-weight:bold;white-space:pre;transform:scaleX(1.2763);">CNY/USD:</div>
<div class="t" style="left:2045.00px;top:1002.76px;font-family:'Liberation Sans';font-size:31px;line-height:31px;color:#0b3540;font-weight:bold;white-space:pre;transform:scaleX(1.1613);">PERFORMANCE SINCE</div>
<div class="t" style="left:2047.00px;top:1040.26px;font-family:'Liberation Sans';font-size:31px;line-height:31px;color:#0b3540;font-weight:bold;white-space:pre;transform:scaleX(1.1850);">TRUMP&#x27;S INAUGURATION</div>
<div class="t" style="left:1989.00px;top:2103.30px;font-family:'Liberation Sans';font-size:34.5px;line-height:34.5px;color:#0b3540;font-weight:bold;-webkit-text-stroke:0.80px #fff;white-space:pre;transform:scaleX(1.1277);">Mar</div>
<div class="t" style="left:2136.00px;top:2103.30px;font-family:'Liberation Sans';font-size:34.5px;line-height:34.5px;color:#0b3540;font-weight:bold;-webkit-text-stroke:0.80px #fff;white-space:pre;transform:scaleX(1.1199);">May</div>
<div class="t" style="left:2295.00px;top:2103.30px;font-family:'Liberation Sans';font-size:34.5px;line-height:34.5px;color:#0b3540;font-weight:bold;-webkit-text-stroke:0.80px #fff;white-space:pre;transform:scaleX(1.1312);">Jul</div>
<div class="t" style="left:2440.00px;top:2103.30px;font-family:'Liberation Sans';font-size:34.5px;line-height:34.5px;color:#0b3540;font-weight:bold;-webkit-text-stroke:0.80px #fff;white-space:pre;transform:scaleX(1.1092);">Sep</div>
<div class="t" style="left:2595.00px;top:2103.30px;font-family:'Liberation Sans';font-size:34.5px;line-height:34.5px;color:#0b3540;font-weight:bold;-webkit-text-stroke:0.80px #fff;white-space:pre;transform:scaleX(1.1083);">Nov</div>
<div class="t" style="left:2748.00px;top:2103.30px;font-family:'Liberation Sans';font-size:34.5px;line-height:34.5px;color:#0b3540;font-weight:bold;-webkit-text-stroke:0.80px #fff;white-space:pre;transform:scaleX(1.0803);">Jan</div>
<div class="t" style="left:2891.00px;top:2103.30px;font-family:'Liberation Sans';font-size:34.5px;line-height:34.5px;color:#0b3540;font-weight:bold;-webkit-text-stroke:0.80px #fff;white-space:pre;transform:scaleX(1.1436);">Mar</div>
<div class="t" style="left:2307.00px;top:2144.53px;font-family:'Liberation Sans';font-size:29.5px;line-height:29.5px;color:#0b3540;font-weight:bold;-webkit-text-stroke:0.60px #fff;white-space:pre;transform:scaleX(1.3277);">2025</div>
<div class="t" style="left:2829.00px;top:2144.53px;font-family:'Liberation Sans';font-size:29.5px;line-height:29.5px;color:#0b3540;font-weight:bold;-webkit-text-stroke:0.60px #fff;white-space:pre;transform:scaleX(1.3429);">2026</div>
<div class="t" style="left:2585.20px;top:2023.25px;font-family:'Liberation Serif';font-size:28px;line-height:28px;color:#08a07b;-webkit-text-stroke:0.50px #08a07b;white-space:pre;transform:scaleX(1.1773);">©</div>
<div class="t" style="left:2618.60px;top:2020.95px;font-family:'Liberation Serif';font-size:32.3px;line-height:32.3px;color:#08a07b;-webkit-text-stroke:0.50px #08a07b;white-space:pre;transform:scaleX(1.0159);">BC</div>
<div class="t" style="left:2657.40px;top:2009.73px;font-family:'Liberation Serif';font-size:45.7px;line-height:45.7px;color:#08a07b;-webkit-text-stroke:0.60px #fff;white-space:pre;transform:scaleX(1.8280);">α</div>
<div class="t" style="left:2709.00px;top:2020.95px;font-family:'Liberation Serif';font-size:32.3px;line-height:32.3px;color:#08a07b;-webkit-text-stroke:0.50px #08a07b;white-space:pre;transform:scaleX(1.1459);">Research</div>
<div class="t" style="left:2856.00px;top:2027.06px;font-family:'Liberation Serif';font-size:25px;line-height:25px;color:#08a07b;-webkit-text-stroke:0.50px #08a07b;white-space:pre;transform:scaleX(1.4294);">2026</div>
</body></html>
